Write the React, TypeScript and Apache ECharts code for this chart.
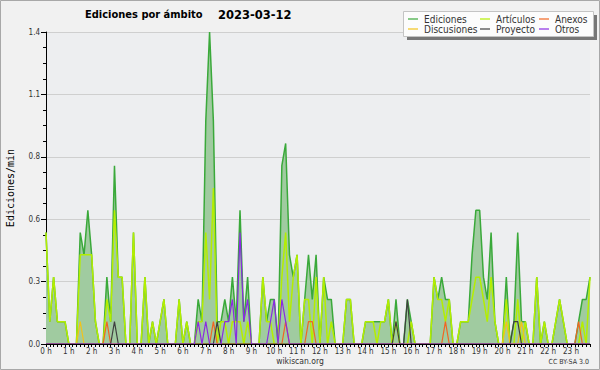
import React, { useEffect, useRef } from "react";
import * as echarts from "echarts";

// Hour tick labels of the x axis
const HOUR_LABELS = [
  "0 h", "1 h", "2 h", "3 h", "4 h", "5 h", "6 h", "7 h", "8 h", "9 h", "10 h", "11 h",
  "12 h", "13 h", "14 h", "15 h", "16 h", "17 h", "18 h", "19 h", "20 h", "21 h", "22 h", "23 h",
];
const MINUTES = ["00", "10", "20", "30", "40", "50"];
// 10-minute slots (categories)
const SLOTS = HOUR_LABELS.flatMap((_, h) => MINUTES.map((m) => `${h}:${m}`));

// Edits per minute, one row per hour (six 10-minute slots)
const EDICIONES = [
  [0.5, 0.1, 0.3, 0.1, 0.1, 0.1],
  [0, 0, 0, 0.5, 0.4, 0.6],
  [0.4, 0.1, 0, 0, 0.3, 0.1],
  [0.8, 0.3, 0.3, 0, 0, 0.5],
  [0, 0, 0.3, 0, 0.1, 0],
  [0.1, 0.2, 0, 0, 0, 0.2],
  [0, 0.1, 0, 0, 0.2, 0.1],
  [1.0, 1.4, 1.0, 0.1, 0.1, 0.2],
  [0.1, 0.3, 0.1, 0.6, 0.1, 0.3],
  [0, 0, 0, 0.3, 0.1, 0.2],
  [0.2, 0, 0.8, 0.9, 0.4, 0.3],
  [0.4, 0, 0.2, 0.4, 0.2, 0.4],
  [0, 0.3, 0.2, 0.2, 0, 0],
  [0, 0.2, 0.2, 0, 0, 0],
  [0.1, 0.1, 0.1, 0.1, 0.1, 0.1],
  [0.2, 0, 0.2, 0, 0, 0.2],
  [0.1, 0, 0, 0, 0, 0],
  [0.3, 0.2, 0.3, 0.2, 0.2, 0],
  [0, 0.1, 0.1, 0.1, 0.4, 0.6],
  [0.6, 0.3, 0.2, 0.5, 0.1, 0],
  [0, 0.3, 0, 0.1, 0.5, 0.1],
  [0.1, 0, 0, 0.3, 0, 0.1],
  [0, 0, 0.1, 0.2, 0.1, 0],
  [0, 0, 0.1, 0.2, 0.2, 0.3],
].flat();

const ARTICULOS = [
  [0.5, 0.1, 0.3, 0.1, 0.1, 0.1],
  [0, 0, 0, 0.4, 0.4, 0.4],
  [0.4, 0.1, 0, 0, 0.2, 0.1],
  [0.6, 0.3, 0.3, 0, 0, 0.5],
  [0, 0, 0.3, 0, 0.1, 0],
  [0.1, 0.2, 0, 0, 0, 0.2],
  [0, 0.1, 0, 0, 0.1, 0.1],
  [0.5, 0.2, 0.7, 0, 0.1, 0.1],
  [0, 0.1, 0.1, 0.1, 0, 0.1],
  [0, 0, 0, 0.3, 0.1, 0.1],
  [0, 0, 0.3, 0.5, 0.1, 0.3],
  [0.4, 0, 0.2, 0.2, 0, 0.3],
  [0, 0.3, 0, 0.1, 0, 0],
  [0, 0.2, 0.2, 0, 0, 0],
  [0.1, 0.1, 0.1, 0, 0.1, 0.1],
  [0.2, 0, 0.1, 0, 0, 0],
  [0.1, 0, 0, 0, 0, 0],
  [0.3, 0.2, 0.2, 0.1, 0.2, 0],
  [0, 0.1, 0.1, 0.1, 0.2, 0.3],
  [0.3, 0.2, 0.1, 0.3, 0.1, 0],
  [0, 0.2, 0, 0, 0.2, 0],
  [0.1, 0, 0, 0.3, 0, 0.1],
  [0, 0, 0.1, 0.2, 0.1, 0],
  [0, 0, 0, 0.1, 0, 0.3],
].flat();

const ANEXOS = [
  [0, 0, 0, 0, 0, 0], [0, 0, 0, 0, 0, 0], [0, 0, 0, 0, 0.1, 0], [0, 0, 0, 0, 0, 0],
  [0, 0, 0, 0, 0, 0], [0, 0, 0, 0, 0, 0], [0, 0, 0, 0, 0, 0], [0, 0, 0.1, 0, 0, 0],
  [0, 0, 0, 0, 0, 0], [0, 0, 0, 0, 0, 0], [0, 0, 0, 0.1, 0, 0], [0, 0, 0, 0.1, 0.1, 0],
  [0, 0, 0, 0, 0, 0], [0, 0, 0, 0, 0, 0], [0, 0, 0, 0, 0, 0], [0, 0, 0, 0, 0, 0],
  [0, 0, 0, 0, 0, 0], [0, 0, 0, 0.1, 0, 0], [0, 0, 0, 0, 0, 0], [0, 0, 0, 0, 0, 0],
  [0, 0, 0, 0, 0, 0], [0, 0, 0, 0, 0, 0], [0, 0, 0, 0, 0, 0], [0, 0, 0.1, 0, 0, 0],
].flat();

const DISCUSIONES = [
  [0, 0, 0, 0, 0, 0], [0, 0, 0, 0.1, 0, 0], [0, 0, 0, 0, 0, 0], [0, 0, 0, 0, 0, 0],
  [0, 0, 0, 0, 0, 0], [0, 0, 0, 0, 0, 0], [0, 0, 0, 0, 0, 0], [0, 0, 0, 0, 0, 0],
  [0, 0, 0, 0, 0, 0], [0, 0, 0, 0, 0, 0], [0, 0, 0, 0, 0, 0], [0, 0, 0, 0, 0, 0],
  [0, 0, 0, 0, 0, 0], [0, 0, 0, 0, 0, 0], [0, 0, 0, 0, 0, 0], [0, 0, 0, 0, 0, 0],
  [0, 0, 0, 0, 0, 0], [0, 0, 0, 0, 0, 0], [0, 0, 0, 0, 0, 0], [0, 0, 0, 0, 0, 0],
  [0, 0.1, 0, 0, 0, 0.1], [0, 0, 0, 0, 0, 0], [0, 0, 0, 0, 0, 0], [0, 0, 0, 0, 0, 0],
].flat();

const PROYECTO = [
  [0, 0, 0, 0, 0, 0], [0, 0, 0, 0, 0, 0], [0, 0, 0, 0, 0, 0], [0.1, 0, 0, 0, 0, 0],
  [0, 0, 0, 0, 0, 0], [0, 0, 0, 0, 0, 0], [0, 0, 0, 0, 0, 0], [0, 0, 0, 0.1, 0, 0],
  [0, 0, 0, 0, 0, 0], [0, 0, 0, 0, 0, 0], [0, 0, 0, 0, 0, 0], [0, 0, 0, 0, 0, 0],
  [0, 0, 0, 0, 0, 0], [0, 0, 0, 0, 0, 0], [0, 0, 0, 0, 0, 0], [0, 0, 0.1, 0, 0, 0.2],
  [0, 0, 0, 0, 0, 0], [0, 0, 0, 0, 0, 0], [0, 0, 0, 0, 0, 0], [0, 0, 0, 0, 0, 0],
  [0, 0, 0, 0.1, 0.1, 0], [0, 0, 0, 0, 0, 0], [0, 0, 0, 0, 0, 0], [0, 0, 0, 0, 0, 0],
].flat();

const OTROS = [
  [0, 0, 0, 0, 0, 0], [0, 0, 0, 0, 0, 0], [0, 0, 0, 0, 0, 0], [0, 0, 0, 0, 0, 0],
  [0, 0, 0, 0, 0, 0], [0, 0, 0, 0, 0, 0], [0, 0, 0, 0, 0.1, 0], [0.1, 0, 0, 0, 0, 0.1],
  [0.1, 0.2, 0, 0.5, 0.1, 0.2], [0, 0, 0, 0, 0, 0.1], [0.2, 0, 0.2, 0.1, 0, 0], [0, 0, 0, 0, 0, 0],
  [0, 0, 0, 0, 0, 0], [0, 0, 0, 0, 0, 0], [0, 0, 0, 0, 0, 0], [0, 0, 0, 0, 0, 0],
  [0, 0, 0, 0, 0, 0], [0, 0, 0, 0, 0, 0], [0, 0, 0, 0, 0, 0], [0, 0, 0, 0, 0, 0],
  [0, 0, 0, 0, 0, 0], [0, 0, 0, 0, 0, 0], [0, 0, 0, 0, 0, 0], [0, 0, 0, 0, 0, 0],
].flat();

const COND = "'DejaVu Sans Condensed', 'DejaVu Sans', sans-serif";
const REG = "'DejaVu Sans', sans-serif";

function lineSeries(name: string, data: number[], color: string, width: number, z: number, extra: any = {}) {
  return {
    name,
    type: "line",
    data,
    symbol: "none",
    showSymbol: false,
    color,
    lineStyle: { color, width },
    itemStyle: { color },
    z,
    ...extra,
  };
}

export default function App() {
  const ref = useRef<HTMLDivElement>(null);
  useEffect(() => {
    if (!ref.current) return;
    const chart = echarts.init(ref.current, undefined, { renderer: "svg" });
    const legendCommon = {
      orient: "vertical",
      top: 14,
      icon: "rect",
      itemWidth: 10,
      itemHeight: 2,
      itemGap: 0,
      padding: 0,
      itemStyle: { opacity: 0.6 },
      textStyle: { fontFamily: COND, fontSize: 10, color: "#333", lineHeight: 10, padding: [0, 0, 0, 1] },
      z: 6,
    };
    chart.setOption({
      animation: false,
      backgroundColor: "#f1f1f1",
      grid: {
        left: 46,
        right: 10,
        top: 32,
        bottom: 26,
        containLabel: false,
        outerBoundsMode: "none",
        show: true,
        backgroundColor: "#edeef0",
        borderWidth: 0,
      },
      legend: [
        { ...legendCommon, left: 408, data: ["Ediciones", "Discusiones"] },
        { ...legendCommon, left: 480, data: ["Artículos", "Proyecto"] },
        { ...legendCommon, left: 539, data: ["Anexos", "Otros"] },
      ],
      xAxis: {
        type: "category",
        data: SLOTS,
        boundaryGap: false,
        z: 10,
        axisLine: { show: true, lineStyle: { color: "#000", width: 1 } },
        axisTick: { show: true, interval: 0, length: 3, lineStyle: { color: "#000" } },
        axisLabel: {
          interval: 5,
          margin: 3,
          fontFamily: COND,
          fontSize: 8,
          color: "#333",
          formatter: (_v: string, idx: number) => HOUR_LABELS[Math.floor(idx / 6)],
        },
        splitLine: { show: false },
      },
      yAxis: {
        type: "value",
        min: 0,
        max: 1.4,
        interval: 0.28,
        name: "Ediciones/min",
        nameLocation: "middle",
        nameRotate: 90,
        nameGap: 31,
        nameTextStyle: { fontFamily: "'DejaVu Sans Mono', monospace", fontSize: 10, color: "#000" },
        axisLine: { show: true, lineStyle: { color: "#000" } },
        axisTick: { show: true, length: 5, lineStyle: { color: "#000" } },
        minorTick: { show: true, splitNumber: 4, length: 3, lineStyle: { color: "#000" } },
        axisLabel: {
          margin: 6,
          fontFamily: COND,
          fontSize: 8,
          color: "#333",
          formatter: (v: number) => v.toFixed(1),
        },
        splitLine: { show: true, lineStyle: { color: "#cfcfcf", width: 1 } },
      },
      series: [
        lineSeries("Ediciones", EDICIONES, "#3aa93a", 1.5, 2, {
          areaStyle: { color: "#a0cba0", opacity: 1 },
        }),
        lineSeries("Artículos", ARTICULOS, "#b4ee00", 1.5, 3),
        lineSeries("Anexos", ANEXOS, "#f26522", 1.2, 4),
        lineSeries("Discusiones", DISCUSIONES, "#f2c31a", 1.2, 4),
        lineSeries("Proyecto", PROYECTO, "#404040", 1.2, 4),
        lineSeries("Otros", OTROS, "#8a2be2", 1.2, 4),
      ],
      graphic: [
        {
          type: "rect",
          z: 1,
          shape: { x: 0.5, y: 0.5, width: 599, height: 369 },
          style: { fill: "none", stroke: "#a8a8a8", lineWidth: 1 },
        },
        {
          type: "rect",
          z: 5,
          shape: { x: 407, y: 15, width: 190, height: 25 },
          style: { fill: "#777777" },
        },
        {
          type: "rect",
          z: 5,
          shape: { x: 403.5, y: 11.5, width: 190, height: 25 },
          style: { fill: "#fcfcfc", stroke: "#c4c4c4", lineWidth: 1 },
        },
        {
          type: "text",
          z: 5,
          x: 85,
          y: 14.5,
          style: {
            text: "Ediciones por ámbito",
            font: `bold 11px ${COND}`,
            fill: "#000",
            align: "left",
            verticalAlign: "middle",
            textAlign: "left",
            textVerticalAlign: "middle",
          },
        },
        {
          type: "text",
          z: 5,
          x: 218,
          y: 14.5,
          style: {
            text: "2023-03-12",
            font: `bold 11.5px ${REG}`,
            fill: "#000",
            align: "left",
            verticalAlign: "middle",
            textAlign: "left",
            textVerticalAlign: "middle",
          },
        },
        {
          type: "text",
          z: 5,
          x: 300,
          y: 361,
          style: {
            text: "wikiscan.org",
            font: `8.5px ${COND}`,
            fill: "#333",
            align: "center",
            verticalAlign: "middle",
            textAlign: "center",
            textVerticalAlign: "middle",
          },
        },
        {
          type: "text",
          z: 5,
          x: 589,
          y: 362,
          style: {
            text: "CC BY-SA 3.0",
            font: `7px ${COND}`,
            fill: "#333",
            align: "right",
            verticalAlign: "middle",
            textAlign: "right",
            textVerticalAlign: "middle",
          },
        },
      ],
    });
    return () => chart.dispose();
  }, []);
  return (
    <div
      ref={ref}
      style={{ position: "absolute", left: 0, top: 0, width: 600, height: 370 }}
    />
  );
}
